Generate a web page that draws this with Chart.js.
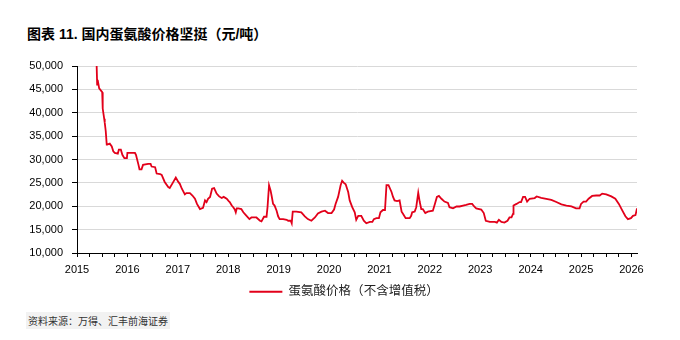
<!DOCTYPE html>
<html>
<head>
<meta charset="utf-8">
<script src="https://cdn.jsdelivr.net/npm/chart.js@4.4.1/dist/chart.umd.min.js"></script>
<style>
    body { margin: 0; background: #fff; }
    .wrap { position: relative; width: 680px; height: 340px; overflow: hidden; }
    .title {
        position: absolute; left: 27px; top: 23px;
        font: bold 14px "Liberation Sans", "Noto Sans CJK SC", sans-serif;
        color: #000; white-space: nowrap;
    }
    .source {
        position: absolute; left: 26px; top: 312px;
        padding: 1px 2px; background: #f2f2f2;
        font: 10px "Noto Sans CJK SC", sans-serif; color: #333;
        white-space: nowrap;
    }
    canvas { position: absolute; left: 0; top: 0; }
</style>
</head>
<body>
<div class="wrap">
    <div class="title">图表 11. 国内蛋氨酸价格坚挺（元/吨）</div>
    <canvas id="priceChart" width="688" height="340"></canvas>
    <div class="source">资料来源：万得、汇丰前海证券</div>
</div>
<script>
// time as decimal year
const dates = [
    2015.39, 2015.40, 2015.41, 2015.44, 2015.50, 2015.51, 2015.54, 2015.55, 2015.57, 2015.59,
    2015.60, 2015.65, 2015.69, 2015.72, 2015.75, 2015.81, 2015.83, 2015.87, 2015.90, 2015.94,
    2015.99, 2016.00, 2016.15, 2016.17, 2016.22, 2016.24, 2016.28, 2016.31, 2016.41, 2016.46,
    2016.48, 2016.55, 2016.58, 2016.65, 2016.68, 2016.74, 2016.81, 2016.84, 2016.90, 2016.96,
    2017.01, 2017.04, 2017.08, 2017.14, 2017.17, 2017.24, 2017.29, 2017.34, 2017.38, 2017.44,
    2017.50, 2017.54, 2017.57, 2017.60, 2017.64, 2017.68, 2017.72, 2017.77, 2017.82, 2017.87,
    2017.91, 2017.97, 2018.01, 2018.03, 2018.07, 2018.10, 2018.13, 2018.15, 2018.17, 2018.20,
    2018.26, 2018.30, 2018.35, 2018.42, 2018.46, 2018.56, 2018.63, 2018.66, 2018.71, 2018.76,
    2018.78, 2018.81, 2018.84, 2018.86, 2018.89, 2018.92, 2018.96, 2018.99, 2019.02, 2019.09,
    2019.16, 2019.19, 2019.24, 2019.26, 2019.28, 2019.35, 2019.45, 2019.52, 2019.58, 2019.65,
    2019.72, 2019.78, 2019.85, 2019.92, 2019.98, 2020.05, 2020.10, 2020.13, 2020.18, 2020.23,
    2020.26, 2020.29, 2020.33, 2020.38, 2020.41, 2020.46, 2020.51, 2020.54, 2020.58, 2020.64,
    2020.69, 2020.74, 2020.81, 2020.86, 2020.89, 2020.94, 2020.99, 2021.02, 2021.07, 2021.11,
    2021.14, 2021.18, 2021.24, 2021.27, 2021.30, 2021.35, 2021.40, 2021.44, 2021.47, 2021.52,
    2021.60, 2021.63, 2021.65, 2021.70, 2021.73, 2021.77, 2021.80, 2021.83, 2021.86, 2021.91,
    2021.96, 2022.06, 2022.10, 2022.14, 2022.18, 2022.23, 2022.29, 2022.36, 2022.39, 2022.46,
    2022.53, 2022.59, 2022.66, 2022.72, 2022.79, 2022.84, 2022.88, 2022.92, 2023.02, 2023.07,
    2023.11, 2023.19, 2023.29, 2023.33, 2023.37, 2023.42, 2023.48, 2023.54, 2023.58, 2023.62,
    2023.65, 2023.66, 2023.72, 2023.78, 2023.81, 2023.85, 2023.89, 2023.93, 2023.98, 2024.08,
    2024.12, 2024.21, 2024.31, 2024.41, 2024.51, 2024.61, 2024.71, 2024.81, 2024.90, 2024.97,
    2025.00, 2025.05, 2025.10, 2025.15, 2025.22, 2025.30, 2025.37, 2025.42, 2025.50, 2025.60,
    2025.68, 2025.75, 2025.82, 2025.88, 2025.93, 2025.99, 2026.03, 2026.08, 2026.11
];

// 蛋氨酸价格（不含增值税）, 元/吨
const prices = [
    50000, 46000, 47000, 45200, 44400, 40900, 38700, 37900, 36100, 33200,
    33200, 33400, 32800, 31750, 31400, 31250, 32100, 32100, 31000, 30300,
    30300, 31400, 31400, 31000, 28850, 27900, 27900, 28850, 29050, 29050,
    28500, 28350, 27000, 26900, 26700, 25200, 24100, 23900, 25000, 26150,
    25200, 24800, 23750, 22550, 22800, 22800, 22300, 21600, 20500, 19400,
    19650, 21250, 20900, 21600, 22000, 23750, 23900, 22700, 22100, 21750,
    22000, 21600, 21100, 20900, 20150, 19800, 19300, 18700, 19550, 19550,
    19400, 18700, 18100, 17250, 17600, 17600, 16900, 16750, 17750, 17750,
    19800, 24500, 23400, 22300, 20500, 20150, 19050, 17850, 17250, 17250,
    17100, 16900, 16900, 16350, 18850, 18850, 18700, 17850, 17250, 16900,
    17600, 18450, 18850, 19050, 18550, 18550, 19300, 20500, 22000, 24500,
    25450, 25050, 24700, 23050, 21250, 19800, 18700, 17100, 17950, 17950,
    16900, 16350, 16650, 16650, 17250, 17450, 17450, 18700, 19200, 19200,
    24500, 24500, 23050, 22000, 21250, 21100, 21250, 18850, 18350, 17450,
    17450, 17950, 18700, 18850, 19800, 22900, 20900, 19400, 19400, 18550,
    18850, 19050, 20500, 22000, 22200, 21600, 21000, 20700, 19800, 19550,
    19950, 19950, 20150, 20300, 20500, 20500, 19950, 19550, 19300, 18550,
    16900, 16650, 16650, 16500, 17100, 16650, 16500, 16900, 17600, 17600,
    18350, 20150, 20500, 20900, 20900, 22000, 22000, 21000, 21600, 21750,
    22100, 21800, 21600, 21350, 20900, 20400, 20150, 19950, 19550, 19550,
    20500, 21000, 21000, 21600, 22200, 22300, 22300, 22700, 22550, 22100,
    21600, 20500, 19050, 17850, 17250, 17450, 17950, 18100, 19550
];

const yearLabels = ['2015', '2016', '2017', '2018', '2019', '2020', '2021', '2022', '2023', '2024', '2025', '2026'];
const yTicks = [10000, 15000, 20000, 25000, 30000, 35000, 40000, 45000, 50000];

const seriesName = '蛋氨酸价格（不含增值税）';
const lineColor = '#e2001a';
const baseFont = '"Liberation Sans", Arial, "Noto Sans CJK SC", sans-serif';

document.addEventListener('DOMContentLoaded', function() {
    const ctx = document.getElementById('priceChart').getContext('2d');

    new Chart(ctx, {
        type: 'line',
        data: {
            datasets: [{
                label: seriesName,
                data: dates.map((t, i) => ({ x: t, y: prices[i] })),
                borderColor: lineColor,
                backgroundColor: lineColor,
                borderWidth: 1.8,
                pointRadius: 0,
                tension: 0,
                fill: false
            }]
        },
        options: {
            responsive: false,
            animation: false,
            layout: {
                padding: { top: 66, left: 0, right: 0, bottom: 32 }
            },
            scales: {
                x: {
                    type: 'linear',
                    min: 2015,
                    max: 2026.11,
                    afterBuildTicks: function(scale) {
                        // quarterly tick marks, labels only on the year
                        const ticks = [];
                        yearLabels.forEach(y => {
                            for (let q = 0; q < 4; q++) {
                                const v = Number(y) + q * 0.25;
                                if (v <= 2026.11) ticks.push({ value: v });
                            }
                        });
                        scale.ticks = ticks;
                    },
                    afterFit: function(scale) {
                        scale.height = 22.5;
                    },
                    grid: {
                        drawOnChartArea: false,
                        drawTicks: true,
                        tickLength: 4,
                        tickColor: '#000'
                    },
                    border: { display: true, color: '#000', width: 1 },
                    ticks: {
                        autoSkip: false,
                        maxRotation: 0,
                        padding: 6,
                        color: '#000',
                        font: { family: baseFont, size: 11 },
                        callback: function(value) {
                            const label = String(Math.round(value));
                            return Math.abs(value - Math.round(value)) < 1e-6 && yearLabels.includes(label) ? label : '';
                        }
                    }
                },
                y: {
                    min: 10000,
                    max: 50000,
                    afterBuildTicks: function(scale) {
                        scale.ticks = yTicks.map(v => ({ value: v }));
                    },
                    afterFit: function(scale) {
                        scale.width = 77;
                    },
                    grid: {
                        color: '#d9d9d9',
                        lineWidth: 1,
                        drawTicks: true,
                        tickLength: 5,
                        tickColor: '#000'
                    },
                    border: { display: true, color: '#000', width: 1 },
                    ticks: {
                        padding: 9,
                        color: '#000',
                        font: { family: baseFont, size: 11 },
                        callback: function(value) {
                            return value.toLocaleString('en-US');
                        }
                    }
                },
                // empty spacer on the right so the bottom legend sits where the original has it
                spacer: {
                    position: 'right',
                    afterFit: function(scale) {
                        scale.width = 51;
                    },
                    grid: { display: false },
                    border: { display: false },
                    ticks: { display: false }
                }
            },
            plugins: {
                legend: {
                    position: 'bottom',
                    labels: {
                        usePointStyle: true,
                        pointStyle: 'line',
                        pointStyleWidth: 33,
                        color: '#222',
                        font: { family: baseFont, size: 12.5 },
                        padding: 10
                    }
                },
                tooltip: { enabled: false }
            }
        }
    });
});
</script>
</body>
</html>
